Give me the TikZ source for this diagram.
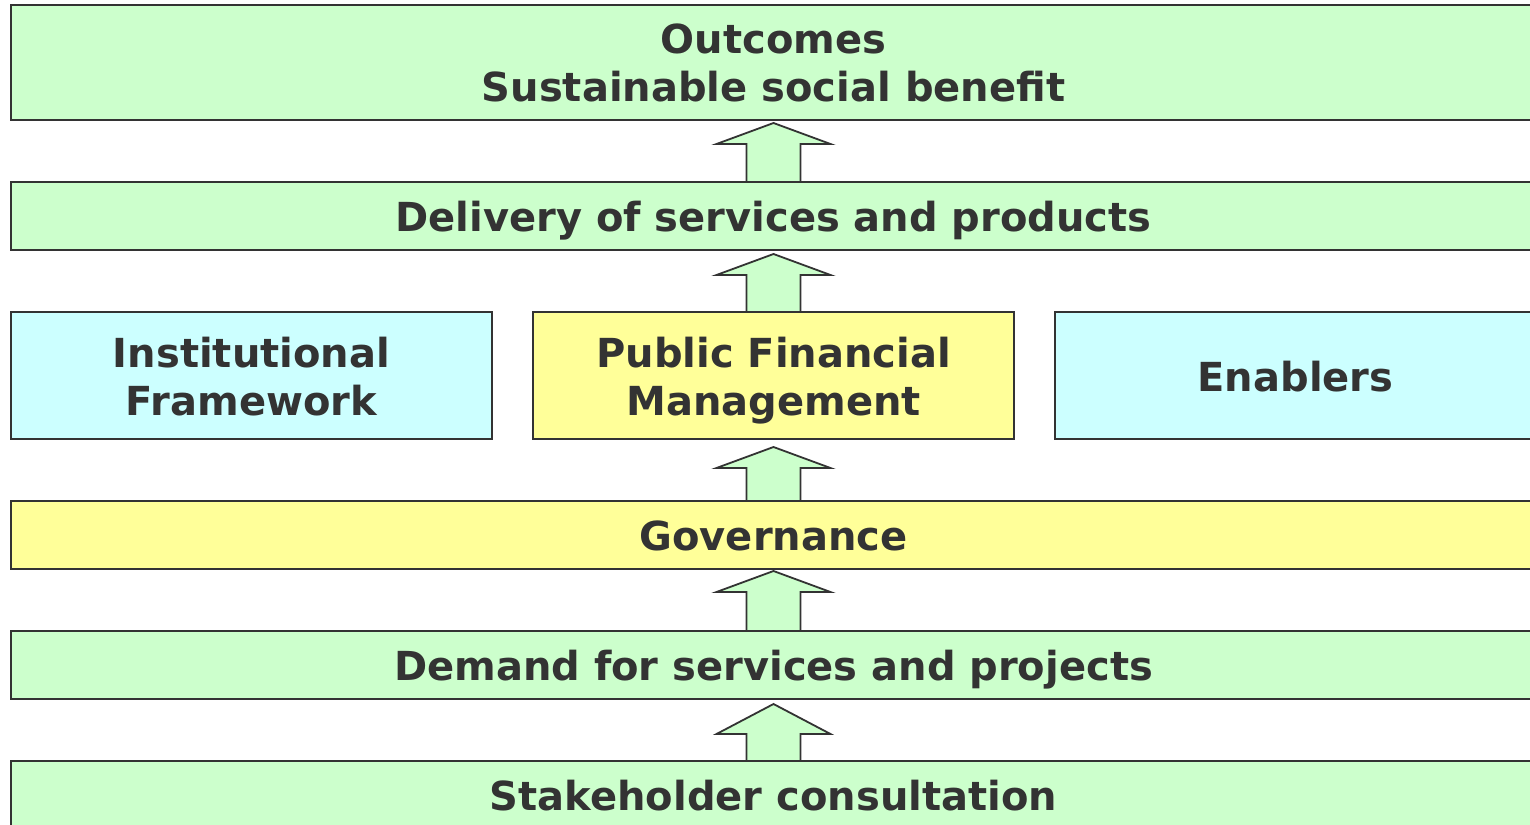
\documentclass[tikz,border=0pt]{standalone}
\usepackage{fontspec}
\setmainfont{DejaVu Sans}
\usetikzlibrary{positioning, calc}
\definecolor{tiergreen}{HTML}{CCFFCC}
\definecolor{tiercyan}{HTML}{CCFFFF}
\definecolor{tieryellow}{HTML}{FFFF99}
\definecolor{inkgray}{HTML}{333333}
\tikzset{
node distance=62pt, % vertical gap between the tiers
tier/.style={draw=inkgray, line width=2pt, outer sep=0pt, minimum width=1525pt, minimum height=68pt, text=inkgray, font=\fontsize{40}{48}\selectfont\bfseries, align=center, text height=31pt, text depth=0pt}, % sets the look of each tier box
twolines/.style={text height=79pt, text depth=0pt}, % keeps two-line texts centred on their capitals
midbox/.style={tier, minimum width=481pt, minimum height=127pt}, % the three boxes in the middle row
tier arrow/.style={draw=inkgray, line width=1.8pt, fill=tiergreen, line join=miter}, % the block arrows
}
% block arrow from the top of #1 up to #3pt below #2, head #4pt long
\newcommand{\tierarrow}[4]{%
  \draw[tier arrow] let \p1=(#1.north), \p2=(#2.south) in
    (\x1-27pt,\y1) -- (\x1-27pt,\y2-#3pt-#4pt) -- (\x1-57pt,\y2-#3pt-#4pt)
    -- (\x1,\y2-#3pt) -- (\x1+57pt,\y2-#3pt-#4pt) -- (\x1+27pt,\y2-#3pt-#4pt)
    -- (\x1+27pt,\y1) -- cycle;}
\begin{document}
\begin{tikzpicture}
    \useasboundingbox (0pt,0pt) rectangle (1530pt,-824pt);
    % tiers, bottom up
    \node[tier, fill=tiergreen] (stake) at (773.5pt,-795pt) {Stakeholder consultation};
    \node[tier, fill=tiergreen, above=of stake] (demand) {Demand for services and projects};
    \node[tier, fill=tieryellow, above=of demand] (gov) {Governance};
    \node[midbox, twolines, fill=tieryellow, above=of gov] (pfm) {Public Financial\\Management};
    \node[midbox, twolines, fill=tiercyan, left=41pt of pfm] (inst) {Institutional\\Framework};
    \node[midbox, fill=tiercyan, right=41pt of pfm] (enab) {Enablers};
    \node[tier, fill=tiergreen, above=of pfm] (deliv) {Delivery of services and products};
    \node[tier, twolines, fill=tiergreen, minimum height=115pt, above=of deliv] (outc) {Outcomes\\Sustainable social benefit};

    % arrows between the tiers
    \tierarrow{stake}{demand}{5}{30}
    \tierarrow{demand}{gov}{2}{21}
    \tierarrow{gov}{pfm}{8}{21}
    \tierarrow{pfm}{deliv}{4}{21}
    \tierarrow{deliv}{outc}{3}{21}
  \end{tikzpicture}
\end{document}
